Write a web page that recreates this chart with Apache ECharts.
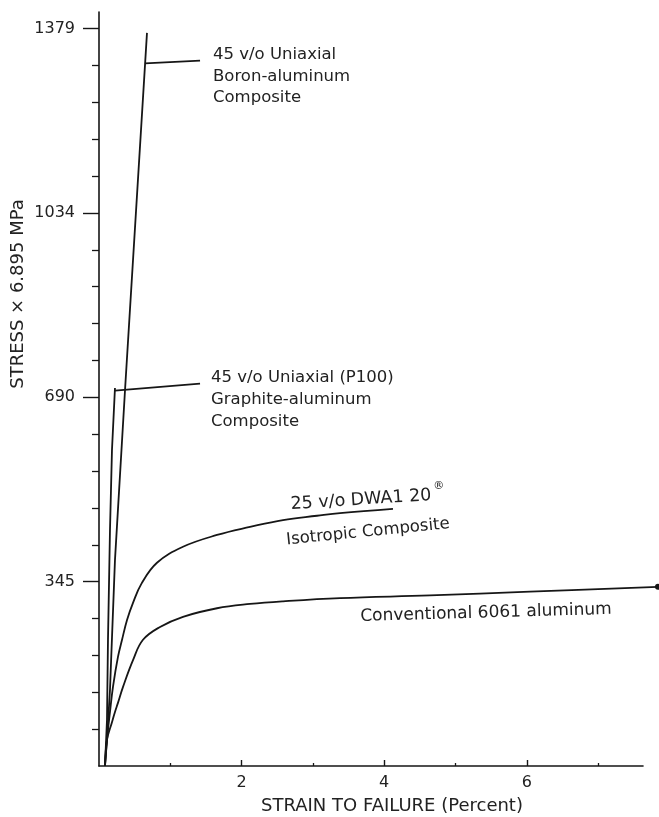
<!DOCTYPE html>
<html>
<head>
<meta charset="utf-8">
<script src="https://cdn.jsdelivr.net/npm/echarts@6/dist/echarts.min.js"></script>
<style>
html,body{margin:0;padding:0;background:#fff;}
#chart{width:659px;height:817px;}
</style>
</head>
<body>
<div id="chart"></div>
<script>
// ---- data (strain in %, stress in MPa) ----
const boronStrain    = [0.084, 0.112, 0.154, 0.224, 0.365, 0.673];
const boronStress    = [0, 49, 142, 385, 703, 1371];

const graphiteStrain = [0.084, 0.112, 0.126, 0.154, 0.182, 0.224];
const graphiteStress = [0, 86, 236, 441, 591, 707];

const dwaStrain  = [0.084, 0.112, 0.154, 0.196, 0.266, 0.323, 0.393, 0.477, 0.596, 0.813, 1.178, 1.655, 2.118, 2.581, 3.058, 3.380, 4.123];
const dwaStress  = [0, 49, 101, 148, 204, 236, 273, 305, 341, 380, 410, 432, 447, 460, 468, 473, 481];

const al6061Strain = [0.084, 0.112, 0.182, 0.224, 0.266, 0.337, 0.477, 0.617, 0.856, 1.178, 1.655, 2.118, 2.581, 3.380, 4.642, 6.045, 7.840];
const al6061Stress = [0, 49, 82, 101, 118, 148, 198, 236, 260, 279, 295, 303, 308, 314, 319, 326, 335];

// tick labels
const yTickLabels = ['345', '690', '1034', '1379'];
const yTickValues = [345, 690, 1034, 1379];
const yMinorStep  = 68.95;               // 10 ksi
const xTickLabels = ['2', '4', '6'];
const xTickValues = [2, 4, 6];
const xMinorValues = [1, 3, 5, 7];

// leader lines (annotation anchors, data coords)
const boronLeader    = [[0.645, 1314], [1.417, 1319]];
const graphiteLeader = [[0.224, 702], [1.417, 715]];

// ---- build ----
const yMinorValues = [];
for (let k = 1; k <= 20; k++) { if (k % 5 !== 0) yMinorValues.push(+(k * yMinorStep).toFixed(2)); }

const W = 659, LEFT = 99, AXIS_RIGHT = 16;
const X_MAX = 7.63;                                        // end of drawn x axis
const X_MAX_FULL = X_MAX * (W - LEFT) / (W - LEFT - AXIS_RIGHT); // same scale, to the page edge

const zip = (a, b) => a.map((v, i) => [v, b[i]]);
const ink = '#161616';
const FONT = '"DejaVu Sans", "Liberation Sans", sans-serif';

const chart = echarts.init(document.getElementById('chart'), null, {renderer: 'canvas'});

const lineSeries = (name, data, extra) => Object.assign({
  name, type: 'line', data, showSymbol: false, symbol: 'none',
  xAxisIndex: 0, yAxisIndex: 0,
  lineStyle: {color: ink, width: 1.8}, itemStyle: {color: ink},
  animation: false, silent: true
}, extra || {});

const leader = (pts) => ({
  silent: true, symbol: ['none', 'none'], animation: false,
  label: {show: false},
  lineStyle: {color: ink, width: 1.6, type: 'solid'},
  data: [[{coord: pts[0]}, {coord: pts[1]}]]
});

const al = zip(al6061Strain, al6061Stress).map((p, i, arr) =>
  i === arr.length - 1 ? {value: p, symbol: 'circle', symbolSize: 6} : p);

const yBase = {type: 'value', min: 0, max: 1410, position: 'left', gridIndex: 0, splitLine: {show: false}};

const option = {
  backgroundColor: '#ffffff',
  animation: false,
  grid: [
    {left: LEFT, right: 0, top: 12, bottom: 51, containLabel: false},
    {left: LEFT, right: AXIS_RIGHT, top: 12, bottom: 51, containLabel: false}
  ],
  xAxis: [
    { // data axis for the plot area (hidden)
      type: 'value', min: 0, max: X_MAX_FULL, gridIndex: 0, position: 'bottom', show: false
    },
    {
      type: 'value', min: 0, max: X_MAX, gridIndex: 1, position: 'bottom',
      axisLine: {show: true, onZero: false, lineStyle: {color: ink, width: 1.6}},
      axisTick: {show: true, inside: true, length: 6, customValues: xTickValues, lineStyle: {color: ink, width: 1.4}},
      axisLabel: {show: true, customValues: xTickValues,
        formatter: v => xTickLabels[xTickValues.indexOf(v)] || '',
        margin: 9, fontSize: 16, fontFamily: FONT, color: '#222'},
      splitLine: {show: false}
    },
    {
      type: 'value', min: 0, max: X_MAX, gridIndex: 1, position: 'bottom',
      axisLine: {show: false, onZero: false},
      axisTick: {show: true, inside: true, length: 3, customValues: xMinorValues, lineStyle: {color: ink, width: 1.3}},
      axisLabel: {show: false},
      splitLine: {show: false}
    }
  ],
  yAxis: [
    Object.assign({}, yBase, {
      axisLine: {show: true, onZero: false, lineStyle: {color: ink, width: 1.6}},
      axisTick: {show: true, inside: false, length: 16, customValues: yTickValues, lineStyle: {color: ink, width: 1.4}},
      axisLabel: {show: true, customValues: yTickValues,
        formatter: v => yTickLabels[yTickValues.indexOf(v)] || '',
        margin: 24, fontSize: 16, fontFamily: FONT, color: '#222'}
    }),
    Object.assign({}, yBase, {
      axisLine: {show: false, onZero: false},
      axisTick: {show: true, inside: false, length: 7, customValues: yMinorValues, lineStyle: {color: ink, width: 1.3}},
      axisLabel: {show: false}
    }),
    {type: 'value', min: 0, max: 1410, gridIndex: 1, show: false}
  ],
  series: [
    lineSeries('45 v/o Uniaxial Boron-aluminum Composite', zip(boronStrain, boronStress), {markLine: leader(boronLeader)}),
    lineSeries('45 v/o Uniaxial (P100) Graphite-aluminum Composite', zip(graphiteStrain, graphiteStress), {markLine: leader(graphiteLeader)}),
    lineSeries('25 v/o DWA1 20 Isotropic Composite', zip(dwaStrain, dwaStress), {smooth: 0.4}),
    lineSeries('Conventional 6061 aluminum', al, {smooth: 0.4, showSymbol: true})
  ],
  graphic: [
    {type: 'text', x: 18, y: 294, rotation: Math.PI / 2, silent: true,
      style: {text: 'STRESS × 6.895 MPa', fontSize: 18, fontFamily: FONT, fill: '#222', align: 'center', verticalAlign: 'middle'}},
    {type: 'text', x: 392, y: 806, silent: true,
      style: {text: 'STRAIN TO FAILURE (Percent)', fontSize: 18, fontFamily: FONT, fill: '#222', align: 'center', verticalAlign: 'middle'}},
    {type: 'text', x: 213, y: 44, silent: true,
      style: {text: '45 v/o Uniaxial\nBoron-aluminum\nComposite', fontSize: 16.5, lineHeight: 21.5, fontFamily: FONT, fill: '#222', align: 'left', verticalAlign: 'top'}},
    {type: 'text', x: 211, y: 367, silent: true,
      style: {text: '45 v/o Uniaxial (P100)\nGraphite-aluminum\nComposite', fontSize: 16.5, lineHeight: 22, fontFamily: FONT, fill: '#222', align: 'left', verticalAlign: 'top'}},
    {type: 'group', x: 361, y: 500, rotation: 0.065, silent: true, children: [
      {type: 'text', x: 0, y: 0,
        style: {text: '25 v/o DWA1 20', fontSize: 17.5, fontFamily: FONT, fill: '#222', align: 'center', verticalAlign: 'middle'}},
      {type: 'text', x: 73, y: -9,
        style: {text: '®', fontSize: 11, fontFamily: FONT, fill: '#222', align: 'left', verticalAlign: 'middle'}}
    ]},
    {type: 'text', x: 368, y: 532, rotation: 0.1, silent: true,
      style: {text: 'Isotropic Composite', fontSize: 16.5, fontFamily: FONT, fill: '#222', align: 'center', verticalAlign: 'middle'}},
    {type: 'text', x: 486, y: 613, rotation: 0.028, silent: true,
      style: {text: 'Conventional 6061 aluminum', fontSize: 17, fontFamily: FONT, fill: '#222', align: 'center', verticalAlign: 'middle'}}
  ]
};

chart.setOption(option);
</script>
</body>
</html>
